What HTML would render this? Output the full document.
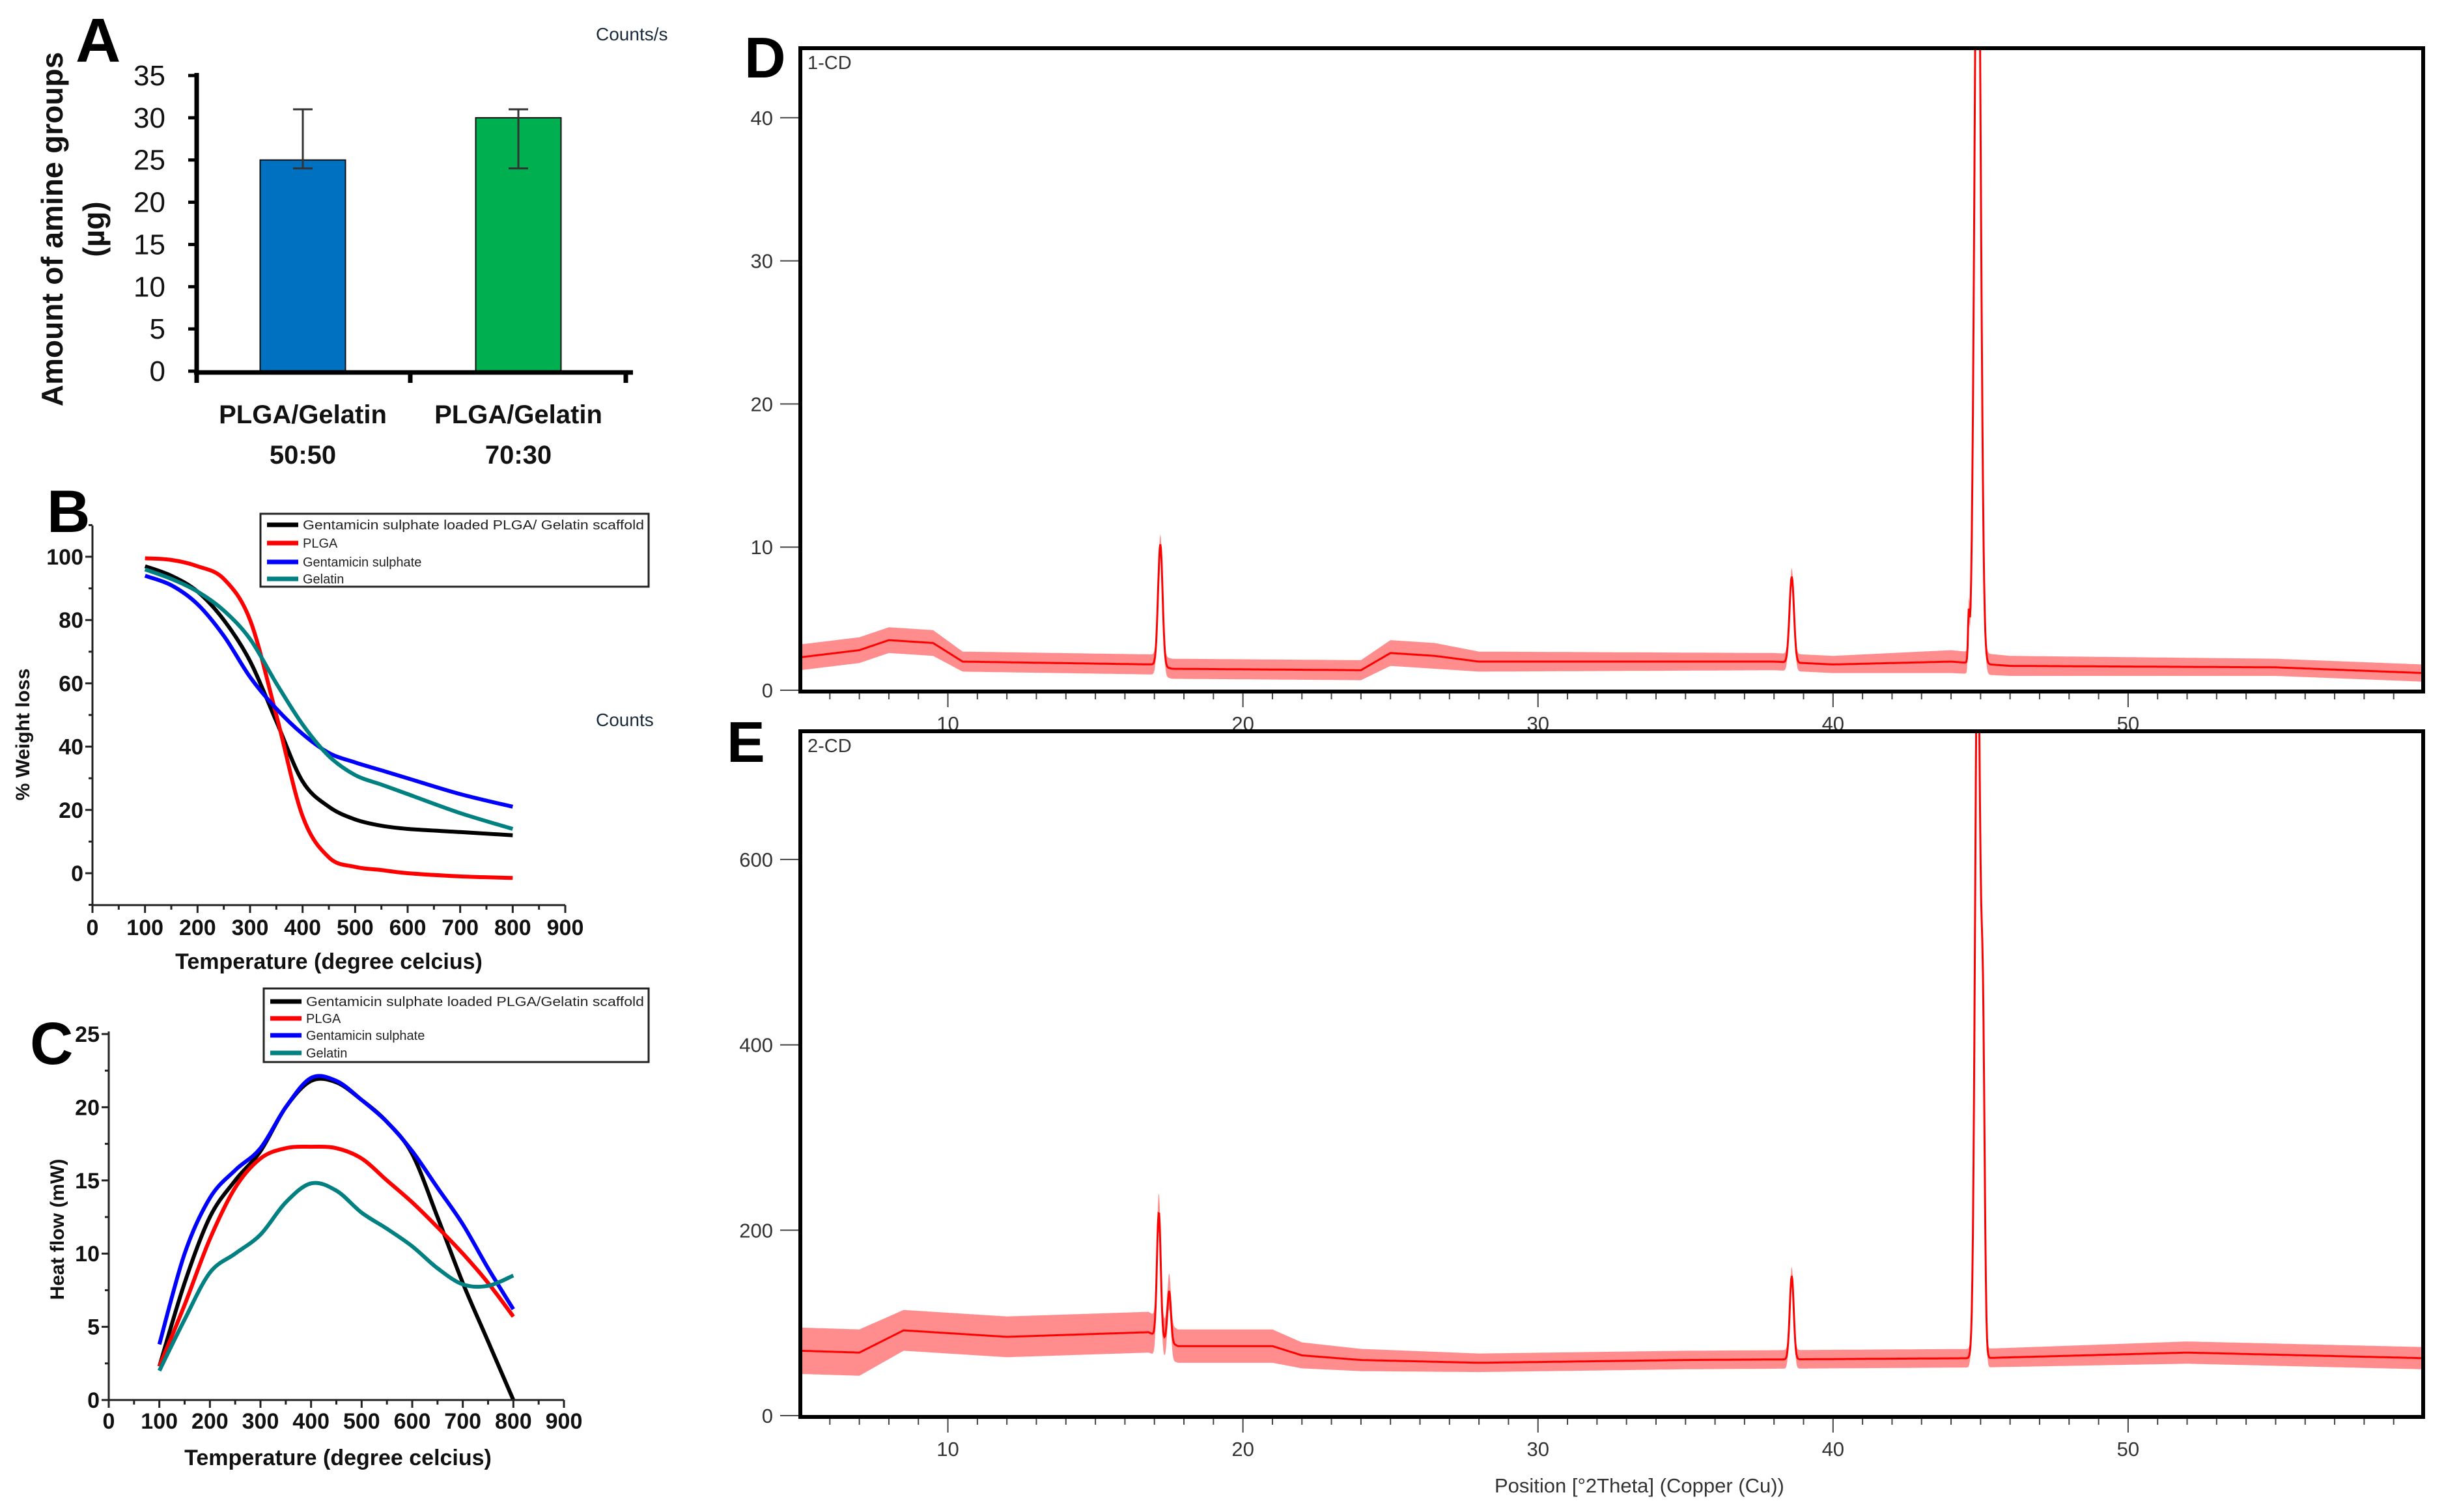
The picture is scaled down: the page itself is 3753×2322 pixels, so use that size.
<!DOCTYPE html>
<html><head><meta charset="utf-8"><style>
html,body{margin:0;padding:0;background:#fff}
svg{display:block}
text{font-family:"Liberation Sans",Arial,sans-serif}
</style></head><body>
<svg id="fig" xmlns="http://www.w3.org/2000/svg" width="3753" height="2322" viewBox="0 0 3753 2322">
<rect x="0" y="0" width="3753" height="2322" fill="#fff"/>
<defs>
<clipPath id="clipD"><rect x="1229" y="74" width="2492" height="988"/></clipPath>
<clipPath id="clipE"><rect x="1229" y="1123" width="2492" height="1053"/></clipPath>
</defs>
<g id="gA"></g>
<g id="gB"></g>
<g id="gC"></g>
<g id="gD"></g>
<g id="gE"></g>
</svg>
<script>
// ---------- Panel A data ----------
const aCategories = ["PLGA/Gelatin|50:50", "PLGA/Gelatin|70:30"];
const aValues = [25, 30];
const aErrLow = [24, 24];
const aErrHigh = [31, 31];
const aTicks = [0, 5, 10, 15, 20, 25, 30, 35];
// ---------- Panel B data (TGA) ----------
const bTemps = [100, 150, 200, 250, 300, 350, 400, 450, 500, 550, 600, 700, 800];
const bScaffold = [97, 94, 89, 80, 67, 48, 29, 21, 17, 15, 14, 13, 12];
const bPLGA = [99.5, 99, 97, 93, 80, 50, 18, 5, 2, 1, 0, -1, -1.5];
const bGentamicin = [94, 91, 85, 75, 62, 52, 44, 38, 35, 32.5, 30, 25, 21];
const bGelatin = [96, 93, 89, 83, 74, 60, 47, 37, 31, 28, 25, 19, 14];
const bYTicks = [0, 20, 40, 60, 80, 100];
const bXTicks = [0, 100, 200, 300, 400, 500, 600, 700, 800, 900];
// ---------- Panel C data (DSC) ----------
const cTemps = [100, 150, 200, 250, 300, 350, 400, 450, 500, 550, 600, 650, 700, 750, 800];
const cScaffold = [2.3, 8, 12.5, 15, 17, 20, 21.8, 21.7, 20.5, 19, 16.8, 12.5, 8, 4, 0];
const cPLGA = [2.3, 6.5, 11, 14.5, 16.5, 17.2, 17.3, 17.2, 16.5, 15, 13.5, 11.8, 10, 8, 5.7];
const cGentamicin = [3.8, 10, 13.8, 15.7, 17.2, 20, 22, 21.8, 20.5, 19, 17, 14.5, 12, 9, 6.2];
const cGelatin = [2, 5.5, 8.7, 10, 11.3, 13.5, 14.8, 14.3, 12.8, 11.7, 10.5, 9, 7.9, 7.8, 8.5];
const cYTicks = [0, 5, 10, 15, 20, 25];
const cXTicks = [0, 100, 200, 300, 400, 500, 600, 700, 800, 900];
const legendLabelsB = ["Gentamicin sulphate loaded PLGA/ Gelatin scaffold", "PLGA", "Gentamicin sulphate", "Gelatin"];
const legendLabelsC = ["Gentamicin sulphate loaded PLGA/Gelatin scaffold", "PLGA", "Gentamicin sulphate", "Gelatin"];
// ---------- Panel D data (XRD 1-CD) ----------
const dBasePos = [5, 7, 8, 9.5, 10.5, 17, 17.6, 24, 25, 26.5, 28, 38, 40, 44, 46, 55, 60];
const dBaseVal = [2.3, 2.8, 3.5, 3.3, 2.0, 1.8, 1.5, 1.4, 2.6, 2.4, 2.0, 2.0, 1.8, 2.0, 1.7, 1.6, 1.2];
const dNoise = [0.9, 0.9, 0.9, 0.9, 0.7, 0.7, 0.7, 0.7, 0.9, 0.9, 0.7, 0.6, 0.6, 0.8, 0.7, 0.6, 0.6];
const dPeakPos = [17.2, 38.6, 44.6, 44.9];
const dPeakHeight = [8.5, 6, 3, 60];
const dPeakWidth = [0.18, 0.18, 0.06, 0.24];
const dYTicks = [0, 10, 20, 30, 40];
// ---------- Panel E data (XRD 2-CD) ----------
const eBasePos = [5, 7, 8.5, 12, 16.8, 17.8, 21, 22, 24, 28, 35, 45, 52, 60];
const eBaseVal = [70, 68, 92, 85, 90, 75, 75, 65, 60, 57, 60, 62, 68, 62];
const eNoise = [25, 25, 22, 22, 22, 18, 18, 14, 12, 10, 10, 10, 12, 12];
const ePeakPos = [17.15, 17.5, 38.6, 44.9, 45.08];
const ePeakHeight = [135, 55, 90, 800, 330];
const ePeakWidth = [0.15, 0.14, 0.16, 0.2, 0.14];
const eYTicks = [0, 200, 400, 600];
const xrdXTicks = [10, 20, 30, 40, 50];

const NS = "http://www.w3.org/2000/svg";
function mk(parent, tag, attrs, txt){
  const e = document.createElementNS(NS, tag);
  for (const k in attrs) e.setAttribute(k, attrs[k]);
  if (txt !== undefined) e.textContent = txt;
  parent.appendChild(e);
  return e;
}
function smoothPath(pts){
  let d = "M" + pts[0][0].toFixed(1) + "," + pts[0][1].toFixed(1);
  for (let i = 0; i < pts.length - 1; i++){
    const p0 = pts[Math.max(0,i-1)], p1 = pts[i], p2 = pts[i+1], p3 = pts[Math.min(pts.length-1,i+2)];
    const c1x = p1[0] + (p2[0]-p0[0])/6, c1y = p1[1] + (p2[1]-p0[1])/6;
    const c2x = p2[0] - (p3[0]-p1[0])/6, c2y = p2[1] - (p3[1]-p1[1])/6;
    d += " C" + c1x.toFixed(1)+","+c1y.toFixed(1)+" "+c2x.toFixed(1)+","+c2y.toFixed(1)+" "+p2[0].toFixed(1)+","+p2[1].toFixed(1);
  }
  return d;
}

// ================= Panel A =================
(function(){
  const g = document.getElementById("gA");
  const y = v => 570 - v * (454/35);
  const centers = [465, 796];
  const colors = ["#0070C0", "#00B050"];
  const bw = 131;
  let t = mk(g, "text", {x:116, y:95, "font-size":96, "font-weight":"bold"}, "A");
  
  
  t = mk(g, "text", {x:915, y:62, "font-size":28, fill:"#1a2a3a"}, "Counts/s");
  
  
  aValues.forEach((v,i)=>{
    const r = mk(g, "rect", {x:centers[i]-bw/2, y:y(v), width:bw, height:y(0)-y(v), fill:colors[i], stroke:"#111", "stroke-width":2});
    
    
    const eb = mk(g, "path", {d:"M"+centers[i]+","+y(aErrLow[i])+"V"+y(aErrHigh[i])+"M"+(centers[i]-15)+","+y(aErrLow[i])+"h30M"+(centers[i]-15)+","+y(aErrHigh[i])+"h30", stroke:"#333", "stroke-width":3, fill:"none"});
    
    
    const parts = aCategories[i].split("|");
    const l1 = mk(g, "text", {x:centers[i], y:650, "font-size":40, "font-weight":"bold", "text-anchor":"middle", fill:"#111"}, parts[0]);
    
    
    const l2 = mk(g, "text", {x:centers[i], y:712, "font-size":40, "font-weight":"bold", "text-anchor":"middle", fill:"#111"}, parts[1]);
    
    
  });
  const ax = mk(g, "path", {d:"M302,"+(y(35)-4)+"V574M298,572H972M302,570V588M630,570V588M961,570V588", stroke:"#000", "stroke-width":7, fill:"none"});
  
  
  aTicks.forEach(v=>{
    const tk = mk(g, "line", {x1:289, x2:302, y1:y(v), y2:y(v), stroke:"#000", "stroke-width":5});
    
    
    const tl = mk(g, "text", {x:254, y:y(v)+15, "font-size":44, "text-anchor":"end", fill:"#111"}, String(v));
    
    
  });
  const yt = mk(g, "text", {x:0, y:0, "font-size":46, "font-weight":"bold", "text-anchor":"middle", transform:"translate(96,352) rotate(-90)", fill:"#111"}, "Amount of amine groups");
  
  
  const yt2 = mk(g, "text", {x:0, y:0, "font-size":46, "font-weight":"bold", "text-anchor":"middle", transform:"translate(160,352) rotate(-90)", fill:"#111"}, "(µg)");
  
  
})();

// ================= Line panels B & C =================
function linePanel(gid, cfg){
  const g = document.getElementById(gid);
  const x = v => cfg.x0 + v*(cfg.x900-cfg.x0)/900;
  const y = v => cfg.yZero - v*cfg.pxPerUnit;
  let t = mk(g, "text", {x:cfg.letterX, y:cfg.letterY, "font-size":92, "font-weight":"bold"}, cfg.letter);
  
  
  const colors = ["#000000", "#ff0000", "#0000ff", "#008080"];
  cfg.series.forEach((s,i)=>{
    const pts = cfg.temps.map((tv,j)=>[x(tv), y(s[j])]);
    const p = mk(g, "path", {d:smoothPath(pts), stroke:colors[i], "stroke-width":6, fill:"none", "stroke-linejoin":"round"});
    
    
  });
  const axis = mk(g, "path", {d:"M"+cfg.x0+","+cfg.yTop+"V"+cfg.axisY+"H"+x(900), stroke:"#222", "stroke-width":3, fill:"none"});
  
  
  for (let v = cfg.yMinorStart; v <= cfg.yMax + 0.001; v += cfg.yMinor){
    const major = cfg.yTicks.some(tv=>Math.abs(tv-v)<1e-6);
    const tk = mk(g, "line", {x1:cfg.x0-(major?11:6), x2:cfg.x0, y1:y(v), y2:y(v), stroke:"#222", "stroke-width":3});
    
    
  }
  cfg.yTicks.forEach(v=>{
    const tl = mk(g, "text", {x:cfg.x0-14, y:y(v)+12, "font-size":34, "font-weight":"bold", "text-anchor":"end", fill:"#111"}, String(v));
    
    
  });
  for (let v = 0; v <= 900; v += 50){
    const major = v % 100 === 0;
    const tk = mk(g, "line", {x1:x(v), x2:x(v), y1:cfg.axisY, y2:cfg.axisY+(major?12:7), stroke:"#222", "stroke-width":3});
    
    
  }
  cfg.xTicks.forEach(v=>{
    const tl = mk(g, "text", {x:x(v), y:cfg.xLabelY, "font-size":34, "font-weight":"bold", "text-anchor":"middle", fill:"#111"}, String(v));
    
    
  });
  const xt = mk(g, "text", {x:cfg.titleX, y:cfg.titleY, "font-size":34, "font-weight":"bold", "text-anchor":"middle", fill:"#111"}, "Temperature (degree celcius)");
  
  
  const yt = mk(g, "text", {x:0, y:0, "font-size":30, "font-weight":"bold", "text-anchor":"middle", transform:"translate("+cfg.yTitleX+","+cfg.yTitleY+") rotate(-90)", fill:"#111"}, cfg.yTitle);
  
  
  const lg = mk(g, "g", {});
  
  
  mk(lg, "rect", {x:cfg.legX, y:cfg.legY, width:cfg.legW, height:cfg.legH, fill:"#fff", stroke:"#222", "stroke-width":3});
  cfg.legendLabels.forEach((lab,i)=>{
    const ey = cfg.legRows[i];
    const ent = mk(lg, "g", {});
    
    
    mk(ent, "line", {x1:cfg.legX+10, x2:cfg.legX+58, y1:ey, y2:ey, stroke:colors[i], "stroke-width":7});
    const attrs = {x:cfg.legX+65, y:ey+7, "font-size":20, fill:"#222"};
    if (i===0) { attrs.textLength = cfg.legW-72; attrs.lengthAdjust="spacingAndGlyphs"; }
    mk(ent, "text", attrs, lab);
  });
  if (cfg.extra){
    const ex = mk(g, "text", {x:cfg.extra.x, y:cfg.extra.y, "font-size":28, fill:"#1a2a3a"}, cfg.extra.t);
    
    
  }
}
linePanel("gB", {x0:142, x900:868, yZero:1341, pxPerUnit:4.86, yTop:807, axisY:1390, yMax:110, yMinor:10, yMinorStart:-10,
  yTicks:bYTicks, xTicks:bXTicks, temps:bTemps, series:[bScaffold,bPLGA,bGentamicin,bGelatin],
  letter:"B", letterX:72, letterY:817, xLabelY:1436, titleX:505, titleY:1488, yTitle:"% Weight loss", yTitleX:45, yTitleY:1128,
  legX:400, legY:789, legW:596, legH:112, legRows:[806,834,863,889], legendLabels:legendLabelsB,
  extra:{x:915, y:1115, t:"Counts"}});
linePanel("gC", {x0:167, x900:866, yZero:2150, pxPerUnit:22.48, yTop:1584, axisY:2150, yMax:25, yMinor:2.5, yMinorStart:0,
  yTicks:cYTicks, xTicks:cXTicks, temps:cTemps, series:[cScaffold,cPLGA,cGentamicin,cGelatin],
  letter:"C", letterX:46, letterY:1634, xLabelY:2194, titleX:519, titleY:2250, yTitle:"Heat flow (mW)", yTitleX:98, yTitleY:1888,
  legX:405, legY:1518, legW:591, legH:113, legRows:[1538,1564,1590,1617], legendLabels:legendLabelsC});

// ================= XRD panels D & E =================
function interp(pos, val, xv){
  if (xv <= pos[0]) return val[0];
  for (let i = 0; i < pos.length-1; i++){
    if (xv <= pos[i+1]) return val[i] + (val[i+1]-val[i])*(xv-pos[i])/(pos[i+1]-pos[i]);
  }
  return val[val.length-1];
}
function xrdPanel(gid, cfg){
  const g = document.getElementById(gid);
  const L = 1229, R = 3721;
  const x = v => L + (v-5)*(R-L)/55;
  const y = v => cfg.yZero - v*cfg.pxPerUnit;
  let t = mk(g, "text", {x:cfg.letterX, y:cfg.letterY, "font-size":88, "font-weight":"bold"}, cfg.letter);
  
  
  const plot = mk(g, "g", {"clip-path":"url(#"+cfg.clip+")"});
  const up = [], dn = [], mid = [];
  for (let v = 5; v <= 60.001; v += 0.02){
    let base = interp(cfg.bpos, cfg.bval, v);
    let pk = 0;
    cfg.ppos.forEach((p,i)=>{ const s = cfg.pw[i]/2.355; pk += cfg.ph[i]*Math.exp(-((v-p)*(v-p))/(2*s*s)); });
    const amp = interp(cfg.bpos, cfg.noise, v);
    mid.push([x(v), y(base+pk)]);
    up.push([x(v), y(base+pk+amp)]);
    dn.push([x(v), y(base+pk-amp)]);
  }
  const band = mk(plot, "path", {d:"M"+up.map(p=>p[0].toFixed(1)+","+p[1].toFixed(1)).join("L")+"L"+dn.reverse().map(p=>p[0].toFixed(1)+","+p[1].toFixed(1)).join("L")+"Z", fill:"#ff3030", "fill-opacity":0.55, stroke:"none"});
  
  
  const ln = mk(plot, "path", {d:"M"+mid.map(p=>p[0].toFixed(1)+","+p[1].toFixed(1)).join("L"), fill:"none", stroke:"#ff0000", "stroke-width":3});
  
  
  cfg.yTicks.forEach(v=>{
    const tk = mk(g, "line", {x1:L-31, x2:L, y1:y(v), y2:y(v), stroke:"#444", "stroke-width":2});
    
    
    const tl = mk(g, "text", {x:L-42, y:y(v)+11, "font-size":31, "text-anchor":"end", fill:"#333"}, String(v));
    
    
  });
  for (let v = 6; v <= 59; v++){
    const major = v % 10 === 0;
    const tk = mk(g, "line", {x1:x(v), x2:x(v), y1:cfg.bottom, y2:cfg.bottom+(major?24:12), stroke:"#444", "stroke-width":2});
    
    
  }
  xrdXTicks.forEach(v=>{
    const tl = mk(g, "text", {x:x(v), y:cfg.bottom+60, "font-size":31, "text-anchor":"middle", fill:"#333"}, String(v));
    
    
  });
  const fr = mk(g, "rect", {x:L, y:cfg.top, width:R-L, height:cfg.bottom-cfg.top, fill:"none", stroke:"#000", "stroke-width":6});
  
  
  const nm = mk(g, "text", {x:1240, y:cfg.top+32, "font-size":29, fill:"#333"}, cfg.name);
  
  
}
xrdPanel("gD", {top:74, bottom:1062, yZero:1060, pxPerUnit:21.98, clip:"clipD", letter:"D", letterX:1143, letterY:119, name:"1-CD",
  bpos:dBasePos, bval:dBaseVal, noise:dNoise, ppos:dPeakPos, ph:dPeakHeight, pw:dPeakWidth, yTicks:dYTicks});
xrdPanel("gE", {top:1123, bottom:2176, yZero:2174, pxPerUnit:1.4235, clip:"clipE", letter:"E", letterX:1116, letterY:1170, name:"2-CD",
  bpos:eBasePos, bval:eBaseVal, noise:eNoise, ppos:ePeakPos, ph:ePeakHeight, pw:ePeakWidth, yTicks:eYTicks});
(function(){
  const g = document.getElementById("gE");
  const xt = mk(g, "text", {x:2295, y:2292, "font-size":31, fill:"#333"}, "Position [°2Theta] (Copper (Cu))");
  
  
})();
</script>
</body></html>
